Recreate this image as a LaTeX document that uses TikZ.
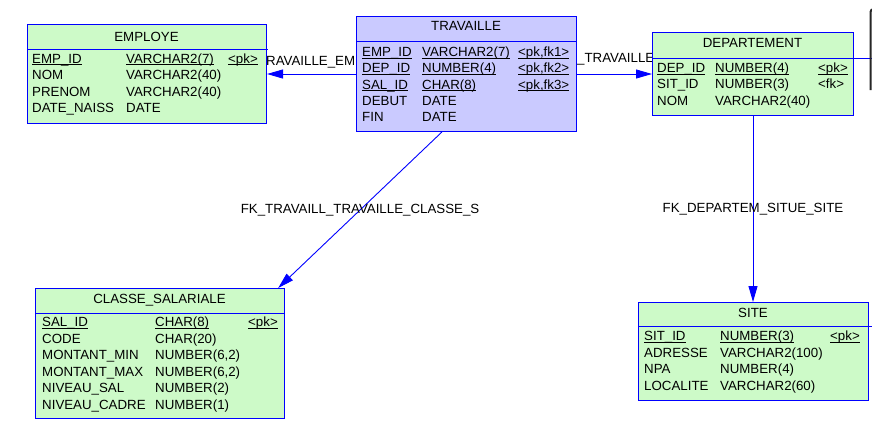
\documentclass[tikz,border=0pt]{standalone}
\usepackage{fontspec}
\setmainfont{Liberation Sans}
\usetikzlibrary{arrows.meta, positioning}
\definecolor{pdgreen}{RGB}{205,250,200}
\definecolor{pdlilac}{RGB}{202,202,255}
\definecolor{pdblue}{RGB}{0,0,255}
\newcommand{\keyul}[1]{{\setbox0\hbox{#1}\rlap{\vrule height -1pt depth 2pt width \wd0}\box0}}

\begin{document}
\begin{tikzpicture}[
    x=1pt, y=-1pt,
    font=\fontsize{13.3}{15}\selectfont,
    tbl/.style={rectangle, draw=pdblue, fill=pdgreen, line width=1pt, anchor=north west, inner sep=0pt},
    tblhead/.style={anchor=base, inner sep=0pt},
    cell/.style={anchor=base west, inner sep=0pt},
    tblsep/.style={draw=pdblue, line width=1pt},
    fk/.style={draw=pdblue, line width=0.9pt, -{Triangle[length=16pt, width=9pt]}},
    fklabel/.style={inner sep=0pt}
]
    \useasboundingbox (0,0) rectangle (872,437);

    % labels of the two short references (partly hidden by the tables)
    \node[cell] (lbl-emp) at (266,65.5) {RAVAILLE\_EMP};
    \node[cell] (lbl-dep) at (577,62.5) {\_TRAVAILLE};

    % EMPLOYE
    \node[tbl, minimum width=239pt, minimum height=99pt] (employe) at (27,24) {};
    \node[tblhead] (employe-head) at (146.5,41.6) {EMPLOYE};
    \draw[tblsep] (27,49) -- (268,49);
    \foreach \n/\t [count=\i] in {\keyul{EMP\_ID}/\keyul{VARCHAR2(7)}, NOM/VARCHAR2(40), PRENOM/VARCHAR2(40), DATE\_NAISS/DATE} {
        \node[cell] (employe-n\i) at (32,{47+16.4*\i}) {\n};
        \node[cell] (employe-t\i) at (126,{47+16.4*\i}) {\t};
    }
    \node[cell] (employe-k1) at (228,63.4) {\keyul{<pk>}};

    % TRAVAILLE
    \node[tbl, fill=pdlilac, minimum width=220pt, minimum height=115pt] (travaille) at (356,16) {};
    \node[tblhead] (travaille-head) at (466,30.6) {TRAVAILLE};
    \draw[tblsep] (356,41) -- (577,41);
    \foreach \n/\t [count=\i] in {\keyul{EMP\_ID}/\keyul{VARCHAR2(7)}, \keyul{DEP\_ID}/\keyul{NUMBER(4)}, \keyul{SAL\_ID}/\keyul{CHAR(8)}, DEBUT/DATE, FIN/DATE} {
        \node[cell] (travaille-n\i) at (362,{40.2+16.3*\i}) {\n};
        \node[cell] (travaille-t\i) at (422,{40.2+16.3*\i}) {\t};
    }
    \foreach \k [count=\i] in {1,2,3}
        \node[cell] (travaille-k\i) at (518,{40.2+16.3*\i}) {\keyul{<pk,fk\k>}};

    % DEPARTEMENT
    \node[tbl, minimum width=201pt, minimum height=83pt] (departement) at (652,32) {};
    \node[tblhead] (departement-head) at (752.5,47.6) {DEPARTEMENT};
    \draw[tblsep] (652,58) -- (872,58);
    \foreach \n/\t [count=\i] in {\keyul{DEP\_ID}/\keyul{NUMBER(4)}, SIT\_ID/NUMBER(3), NOM/VARCHAR2(40)} {
        \node[cell] (departement-n\i) at (657,{56.2+16.3*\i}) {\n};
        \node[cell] (departement-t\i) at (715,{56.2+16.3*\i}) {\t};
    }
    \node[cell] (departement-k1) at (818,72.5) {\keyul{<pk>}};
    \node[cell] (departement-k2) at (818,88.8) {<fk>};

    % CLASSE_SALARIALE
    \node[tbl, minimum width=249pt, minimum height=130pt] (classe) at (35,288) {};
    \node[tblhead] (classe-head) at (159.5,303.6) {CLASSE\_SALARIALE};
    \draw[tblsep] (35,313) -- (284,313);
    \foreach \n/\t [count=\i] in {\keyul{SAL\_ID}/\keyul{CHAR(8)}, CODE/CHAR(20), MONTANT\_MIN/{NUMBER(6,2)}, MONTANT\_MAX/{NUMBER(6,2)}, NIVEAU\_SAL/NUMBER(2), NIVEAU\_CADRE/NUMBER(1)} {
        \node[cell] (classe-n\i) at (42,{309.9+16.6*\i}) {\n};
        \node[cell] (classe-t\i) at (155,{309.9+16.6*\i}) {\t};
    }
    \node[cell] (classe-k1) at (248,326.5) {\keyul{<pk>}};

    % SITE
    \node[tbl, minimum width=230pt, minimum height=98pt] (site) at (638,302) {};
    \node[tblhead] (site-head) at (753,317.6) {SITE};
    \draw[tblsep] (638,326) -- (872,326);
    \foreach \n/\t [count=\i] in {\keyul{SIT\_ID}/\keyul{NUMBER(3)}, ADRESSE/VARCHAR2(100), NPA/NUMBER(4), LOCALITE/VARCHAR2(60)} {
        \node[cell] (site-n\i) at (644,{323.8+16.7*\i}) {\n};
        \node[cell] (site-t\i) at (720,{323.8+16.7*\i}) {\t};
    }
    \node[cell] (site-k1) at (830,340.5) {\keyul{<pk>}};

    % references
    \draw[fk] (travaille.west) -- (employe.east);
    \draw[fk] (travaille.east) -- (departement.west);
    \draw[fk] (travaille.247) -- (classe.29) node[fklabel, midway] (lbl-classe) {FK\_TRAVAILL\_TRAVAILLE\_CLASSE\_S};
    \draw[fk] (departement.south) -- (departement.south |- site.north) node[fklabel, midway] (lbl-site) {FK\_DEPARTEM\_SITUE\_SITE};

    % edge of a cut-off symbol
    \draw[line width=2pt, black!85, rounded corners=3pt] (870.5,90) -- (870.5,9) -- (885,9);
\end{tikzpicture}
\end{document}
